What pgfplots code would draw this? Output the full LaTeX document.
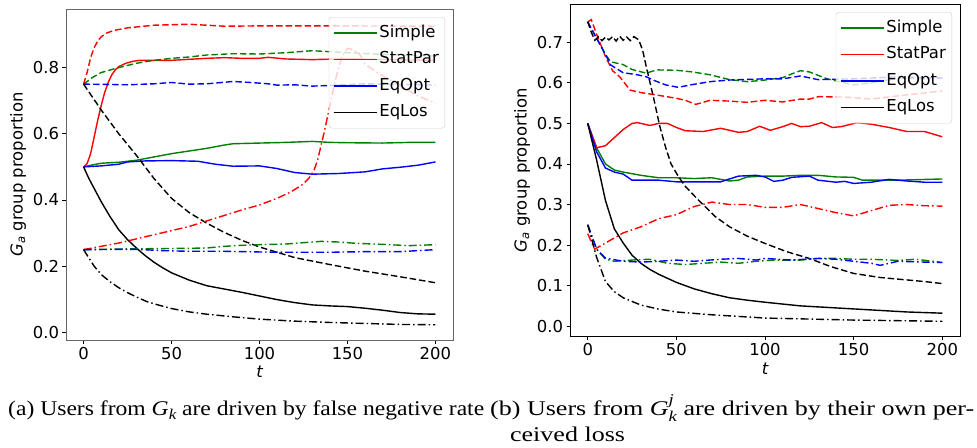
\documentclass[border=0pt]{standalone}
\usepackage{fontspec}
\setmainfont{DejaVu Sans}
\newfontfamily\capfont{Liberation Serif}
\usepackage{graphicx}
\usepackage{pgfplots}
\pgfplotsset{compat=1.18}

\definecolor{mplgreen}{RGB}{0,128,0}
\definecolor{mplred}{RGB}{255,0,0}
\definecolor{mplblue}{RGB}{0,0,255}
\definecolor{legframe}{RGB}{204,204,204}

\newcommand\Gk{{\itshape G}\raisebox{-0.22em}{\fontsize{15}{15}\selectfont\itshape k}}
\newcommand\Gkj{{\itshape G}\rlap{\raisebox{0.5em}{\fontsize{15}{15}\selectfont\itshape j}}\raisebox{-0.3em}{\fontsize{15}{15}\selectfont\itshape k}}

\pgfplotsset{
  panel/.style={
    scale only axis,
    xmin=-10, xmax=210,
    xtick={0,50,100,150,200},
    tick align=outside, tick pos=left,
    major tick length=3.5bp,
    every tick/.style={black, line width=0.8bp},
    ticklabel style={font=\fontsize{16.5}{19}\selectfont},
    /pgf/number format/assume math mode=true,
    yticklabel style={/pgf/number format/fixed, /pgf/number format/fixed zerofill, /pgf/number format/precision=1},
    label style={font=\fontsize{16.5}{19}\selectfont},
    xlabel={\itshape t},
    ylabel={{\itshape G}\textsubscript{\itshape a} group proportion},
    every axis plot/.append style={line width=1.4bp},
    legend cell align=left,
    legend image code/.code={\draw[##1, line width=1.5bp] (0bp,0bp) -- (33bp,0bp); \path (0bp,0bp) -- (43bp,0bp);},
    legend style={at={(1,1)}, anchor=north east, xshift=-8bp, yshift=-8bp,
      fill=white, fill opacity=0.8, draw opacity=1, text opacity=1,
      draw=legframe, rounded corners=3bp, inner xsep=4bp, inner ysep=6bp,
      row sep=7bp,
      nodes={inner sep=2bp, text height=12bp, text depth=3.5bp},
      font=\fontsize{16.5}{19}\selectfont},
  },
  sdash/.style={dash pattern=on 6.5bp off 3bp},
  sdot/.style={dash pattern=on 8bp off 3bp on 1.5bp off 3bp},
}

\begin{document}
\begin{tikzpicture}
\path[use as bounding box] (0,0) rectangle (977bp,-448bp);

% ---------------- (a) ----------------
\begin{axis}[panel,
  at={(66bp,-9bp)}, anchor=north west,
  width=387bp, height=331bp,
  ymin=-0.023, ymax=0.977,
  ytick={0,0.2,0.4,0.6,0.8},
  axis line style={black!60, line width=0.8bp},
]
% solid: start 0.5
\addplot[mplgreen] table {
0 0.500
5 0.506
10 0.511
20 0.514
30 0.520
40 0.530
50 0.540
60 0.548
70 0.556
80 0.566
85 0.570
100 0.572
115 0.574
130 0.577
140 0.574
150 0.573
170 0.572
185 0.574
200 0.574
};
\addlegendentry{Simple}
\addplot[mplred] table {
0 0.500
2 0.510
4 0.540
6 0.590
8 0.640
10 0.685
12 0.725
14 0.755
16 0.778
18 0.793
20 0.803
24 0.813
28 0.819
32 0.822
40 0.822
50 0.822
60 0.825
70 0.828
80 0.830
90 0.828
100 0.828
105 0.831
115 0.826
130 0.824
150 0.827
170 0.824
200 0.822
};
\addlegendentry{StatPar}
\addplot[mplblue] table {
0 0.500
10 0.503
20 0.508
25 0.515
35 0.518
50 0.519
65 0.517
75 0.508
85 0.502
100 0.503
110 0.495
120 0.483
130 0.478
145 0.480
160 0.485
170 0.494
180 0.499
190 0.505
200 0.515
};
\addlegendentry{EqOpt}
\addplot[black] table {
0 0.500
3 0.465
6 0.435
10 0.395
15 0.350
20 0.310
25 0.280
30 0.255
35 0.232
40 0.212
45 0.195
50 0.180
60 0.158
70 0.141
80 0.131
90 0.121
100 0.110
110 0.099
120 0.090
130 0.083
140 0.080
150 0.078
160 0.073
170 0.067
180 0.060
190 0.056
200 0.055
};
\addlegendentry{EqLos}
% dashed: start 0.75
\addplot[mplgreen, sdash, forget plot] table {
0 0.750
5 0.770
10 0.785
20 0.800
30 0.813
40 0.822
50 0.828
60 0.832
70 0.838
85 0.842
100 0.841
115 0.845
130 0.851
140 0.848
150 0.845
170 0.840
185 0.838
200 0.835
};
\addplot[mplred, sdash, forget plot] table {
0 0.750
2 0.785
4 0.830
6 0.860
8 0.880
10 0.893
13 0.904
17 0.912
25 0.920
40 0.928
60 0.931
80 0.925
100 0.926
150 0.926
200 0.925
};
\addplot[mplblue, sdash, forget plot] table {
0 0.750
15 0.749
25 0.748
40 0.751
50 0.755
60 0.750
70 0.751
85 0.758
95 0.755
105 0.751
110 0.747
120 0.748
130 0.744
140 0.746
160 0.751
180 0.749
200 0.747
};
\addplot[black, sdash, forget plot] table {
0 0.750
10 0.672
20 0.600
30 0.535
40 0.465
50 0.405
60 0.362
70 0.330
80 0.302
90 0.278
100 0.258
120 0.226
140 0.205
160 0.185
180 0.168
200 0.150
};
% dash-dot: start 0.25
\addplot[mplgreen, sdot, forget plot] table {
0 0.250
20 0.252
40 0.253
60 0.254
70 0.255
80 0.260
90 0.263
100 0.265
115 0.267
125 0.271
135 0.275
145 0.273
155 0.269
170 0.266
185 0.262
200 0.265
};
\addplot[mplred, sdot, forget plot] table {
0 0.250
20 0.270
40 0.295
60 0.320
75 0.345
90 0.370
100 0.385
110 0.405
118 0.425
124 0.445
128 0.465
131 0.490
133 0.520
135 0.565
137 0.610
139 0.660
141 0.710
143 0.760
145 0.800
147 0.835
150 0.858
153 0.855
157 0.840
160 0.810
170 0.775
180 0.745
190 0.715
200 0.692
};
\addplot[mplblue, sdot, forget plot] table {
0 0.250
30 0.251
45 0.247
60 0.245
80 0.245
100 0.243
120 0.242
140 0.242
160 0.244
180 0.244
200 0.250
};
\addplot[black, sdot, forget plot] table {
0 0.250
3 0.225
6 0.200
10 0.175
15 0.153
20 0.135
25 0.120
30 0.107
36 0.093
43 0.082
50 0.072
60 0.062
70 0.055
85 0.047
100 0.040
120 0.034
140 0.030
160 0.027
180 0.024
200 0.023
};
\end{axis}

% ---------------- (b) ----------------
\begin{axis}[panel,
  at={(570bp,-4bp)}, anchor=north west,
  width=390bp, height=332.7bp,
  ymin=-0.026, ymax=0.7945,
  ytick={0,0.1,0.2,0.3,0.4,0.5,0.6,0.7},
  axis line style={black, line width=0.8bp},
]
\addplot[mplgreen] table {
0 0.500
5 0.440
10 0.400
15 0.385
20 0.380
30 0.372
40 0.366
50 0.366
60 0.364
70 0.366
80 0.358
85 0.360
90 0.368
100 0.370
110 0.370
120 0.372
130 0.372
140 0.368
150 0.367
155 0.360
165 0.360
175 0.360
200 0.363
};
\addlegendentry{Simple}
\addplot[mplred] table {
0 0.500
5 0.440
10 0.445
15 0.465
20 0.485
25 0.500
28 0.502
35 0.495
40 0.500
45 0.500
50 0.490
55 0.482
65 0.480
75 0.488
85 0.478
90 0.480
97 0.493
103 0.483
110 0.492
115 0.500
120 0.492
125 0.493
132 0.502
138 0.490
143 0.492
152 0.502
160 0.498
170 0.490
180 0.480
190 0.480
200 0.467
};
\addlegendentry{StatPar}
\addplot[mplblue] table {
0 0.500
5 0.430
10 0.390
15 0.380
20 0.375
25 0.360
40 0.360
50 0.356
60 0.356
75 0.356
85 0.370
95 0.372
100 0.368
105 0.357
110 0.360
115 0.367
125 0.370
130 0.360
140 0.355
145 0.357
150 0.352
160 0.355
170 0.362
180 0.358
190 0.355
200 0.355
};
\addlegendentry{EqOpt}
\addplot[black] table {
0 0.500
5 0.410
10 0.310
15 0.240
20 0.205
25 0.175
30 0.155
35 0.140
40 0.128
50 0.108
60 0.092
70 0.080
80 0.070
90 0.064
100 0.059
120 0.050
140 0.045
160 0.040
180 0.035
200 0.032
};
\addlegendentry{EqLos}
% dashed: start 0.75
\addplot[mplgreen, sdash, forget plot] table {
0 0.750
5 0.710
10 0.670
13 0.652
20 0.645
25 0.633
33 0.624
39 0.632
50 0.631
59 0.627
69 0.620
80 0.608
90 0.603
100 0.607
110 0.613
115 0.622
120 0.630
125 0.627
135 0.610
150 0.595
160 0.600
175 0.612
190 0.610
200 0.612
};
\addplot[mplred, sdash, forget plot] table {
0 0.750
2 0.756
5 0.720
10 0.665
14 0.630
18 0.615
24 0.582
30 0.576
39 0.570
50 0.562
55 0.557
61 0.547
69 0.557
80 0.555
90 0.552
100 0.557
110 0.553
120 0.560
125 0.560
130 0.566
145 0.565
160 0.560
175 0.568
200 0.580
};
\addplot[mplblue, sdash, forget plot] table {
0 0.750
5 0.710
10 0.670
13 0.644
20 0.625
28 0.620
33 0.615
38 0.605
44 0.595
51 0.589
58 0.595
69 0.603
80 0.607
100 0.610
110 0.610
120 0.617
130 0.608
150 0.610
175 0.615
200 0.612
};
\addplot[black, sdash, forget plot] table {
0 0.751
2 0.725
4 0.705
6 0.714
8 0.704
10 0.713
12 0.706
14 0.714
16 0.703
18 0.715
20 0.705
22 0.713
24 0.704
26 0.714
28.8 0.706
31 0.680
33 0.640
37 0.566
40.7 0.492
44 0.440
47 0.400
51 0.370
55 0.345
60 0.322
65 0.300
72 0.270
80 0.245
90 0.222
100 0.204
112 0.184
125 0.167
137 0.147
150 0.130
165 0.120
175 0.116
190 0.110
200 0.105
};
% dash-dot
\addplot[mplgreen, sdot, forget plot] table {
0 0.250
5 0.190
10 0.165
15 0.160
25 0.163
35 0.165
45 0.155
55 0.152
65 0.155
75 0.158
85 0.155
95 0.160
105 0.163
120 0.163
130 0.167
140 0.167
150 0.165
160 0.165
175 0.162
185 0.165
200 0.157
};
\addplot[mplred, sdot, forget plot] table {
0 0.228
2 0.208
4 0.190
10 0.205
20 0.230
30 0.245
40 0.265
50 0.275
60 0.295
70 0.306
80 0.300
90 0.300
100 0.293
110 0.293
120 0.300
130 0.290
140 0.280
150 0.272
160 0.285
170 0.298
180 0.300
190 0.297
200 0.296
};
\addplot[mplblue, sdot, forget plot] table {
0 0.250
5 0.190
10 0.168
20 0.160
30 0.158
40 0.160
50 0.163
60 0.160
75 0.165
85 0.167
95 0.163
100 0.167
115 0.163
130 0.167
140 0.165
150 0.160
160 0.155
165 0.150
175 0.160
190 0.158
200 0.157
};
\addplot[black, sdot, forget plot] table {
0 0.250
5 0.170
10 0.110
15 0.085
20 0.070
30 0.052
40 0.042
50 0.035
70 0.028
100 0.020
150 0.015
200 0.012
};
\end{axis}

% captions
\node[anchor=base west, inner sep=0pt] at (8bp,-415bp)
  {\resizebox{476bp}{\height}{\capfont\fontsize{21}{27}\selectfont (a) Users from \Gk{} are driven by false negative rate}};
\node[anchor=base west, inner sep=0pt] at (490bp,-415bp)
  {\resizebox{484bp}{\height}{\capfont\fontsize{21}{27}\selectfont\begin{tabular}[t]{@{}l@{}}(b) Users from \Gkj{} are driven by their own per-\\\hspace{16bp}ceived loss\end{tabular}}};
\end{tikzpicture}
\end{document}
